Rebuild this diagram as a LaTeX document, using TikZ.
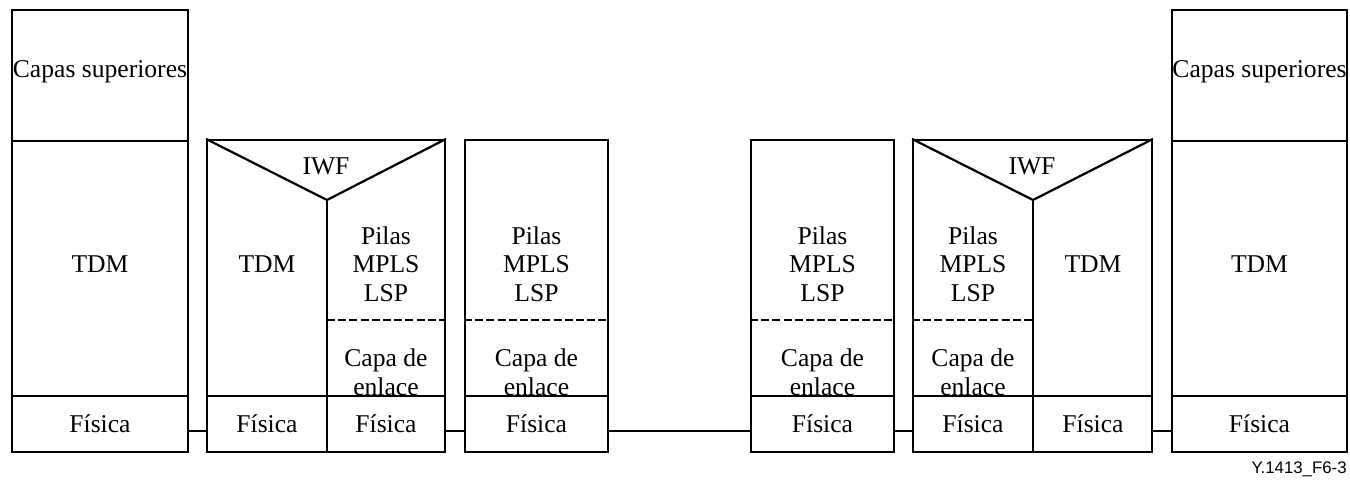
\documentclass[tikz,border=0pt]{standalone}
\usepackage{fontspec}
\setmainfont{Liberation Serif}
\newfontfamily\tagfont{Liberation Sans}
\begin{document}
\begin{tikzpicture}[x=0.5pt,y=-0.5pt,
  box/.style={draw, line width=1.1pt, inner sep=0pt},
  ln/.style={line width=1.1pt},
  dsh/.style={line width=1.1pt, dash pattern=on 4pt off 1.6pt},
  lbl/.style={font=\fontsize{12.8}{14.3}\selectfont, align=center, inner sep=0pt},
  conn/.style={line width=1.3pt}]
\useasboundingbox (0,0) rectangle (1350,480);
% outer boxes
\node[box, minimum width=88pt, minimum height=221pt] (b1) at (100,231) {};
\node[box, minimum width=119pt, minimum height=156pt] (b2) at (326,296) {};
\node[box, minimum width=71.5pt, minimum height=156pt] (b3) at (536.5,296) {};
\node[box, minimum width=71.5pt, minimum height=156pt] (b4) at (822.5,296) {};
\node[box, minimum width=119.5pt, minimum height=156pt] (b5) at (1032.5,296) {};
\node[box, minimum width=87.5pt, minimum height=221pt] (b6) at (1259.5,231) {};
% box 1
\draw[ln] (b1.west |- 0,141) -- (b1.east |- 0,141);
\draw[ln] (b1.west |- 0,396) -- (b1.east |- 0,396);
\node[lbl] (t1a) at (100,72) {Capas superiores};
\node[lbl] (t1b) at (100,264) {TDM};
\node[lbl] (t1c) at (100,424) {Física};
% box 2
\coordinate (a2) at (327,200);
\begin{scope}
\clip (b2.north west) rectangle (b2.south east);
\draw[ln] (b2.north west) -- (a2) -- (b2.north east);
\end{scope}
\draw[ln] (a2) -- (a2 |- b2.south);
\draw[dsh] (327,320) -- (b2.east |- 0,320);
\draw[ln] (b2.west |- 0,396) -- (b2.east |- 0,396);
\node[lbl] (t2a) at (326,166) {IWF};
\node[lbl] (t2b) at (267,264) {TDM};
\node[lbl] (t2c) at (386,264) {Pilas\\MPLS\\LSP};
\node[lbl] (t2d) at (386,372) {Capa de\\enlace};
\node[lbl] (t2e) at (267,424) {Física};
\node[lbl] (t2f) at (386,424) {Física};
% box 3
\draw[dsh] (b3.west |- 0,320) -- (b3.east |- 0,320);
\draw[ln] (b3.west |- 0,396) -- (b3.east |- 0,396);
\node[lbl] (t3a) at (536.5,264) {Pilas\\MPLS\\LSP};
\node[lbl] (t3b) at (536.5,372) {Capa de\\enlace};
\node[lbl] (t3c) at (536.5,424) {Física};
% box 4
\draw[dsh] (b4.west |- 0,320) -- (b4.east |- 0,320);
\draw[ln] (b4.west |- 0,396) -- (b4.east |- 0,396);
\node[lbl] (t4a) at (822.5,264) {Pilas\\MPLS\\LSP};
\node[lbl] (t4b) at (822.5,372) {Capa de\\enlace};
\node[lbl] (t4c) at (822.5,424) {Física};
% box 5
\coordinate (a5) at (1033,200);
\begin{scope}
\clip (b5.north west) rectangle (b5.south east);
\draw[ln] (b5.north west) -- (a5) -- (b5.north east);
\end{scope}
\draw[ln] (a5) -- (a5 |- b5.south);
\draw[dsh] (b5.west |- 0,320) -- (1033,320);
\draw[ln] (b5.west |- 0,396) -- (b5.east |- 0,396);
\node[lbl] (t5a) at (1032,166) {IWF};
\node[lbl] (t5b) at (973,264) {Pilas\\MPLS\\LSP};
\node[lbl] (t5c) at (1093,264) {TDM};
\node[lbl] (t5d) at (973,372) {Capa de\\enlace};
\node[lbl] (t5e) at (973,424) {Física};
\node[lbl] (t5f) at (1093,424) {Física};
% box 6
\draw[ln] (b6.west |- 0,141) -- (b6.east |- 0,141);
\draw[ln] (b6.west |- 0,396) -- (b6.east |- 0,396);
\node[lbl] (t6a) at (1259.5,72) {Capas superiores};
\node[lbl] (t6b) at (1259.5,264) {TDM};
\node[lbl] (t6c) at (1259.5,424) {Física};
% connectors
\draw[conn] (b1.east |- 0,431) -- (b2.west |- 0,431);
\draw[conn] (b2.east |- 0,431) -- (b3.west |- 0,431);
\draw[conn] (b3.east |- 0,431) -- (b4.west |- 0,431);
\draw[conn] (b4.east |- 0,431) -- (b5.west |- 0,431);
\draw[conn] (b5.east |- 0,431) -- (b6.west |- 0,431);
% tag
\node[font=\tagfont\fontsize{8.4}{9}\selectfont, anchor=east, inner sep=0pt] (tag) at (1347,469) {Y.1413\_F6-3};
\end{tikzpicture}
\end{document}
